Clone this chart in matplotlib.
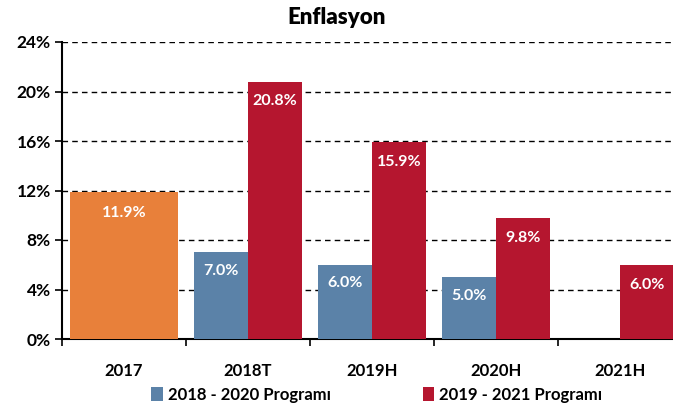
import matplotlib.pyplot as plt
import numpy as np

plt.rcParams['font.family'] = ['Lato', 'DejaVu Sans']
plt.rcParams['font.weight'] = 'bold'

# data
years = ['2017', '2018T', '2019H', '2020H', '2021H']
actual_2017 = 11.9
prog_2018_2020 = [7.0, 6.0, 5.0]          # 2018T..2020H
prog_2019_2021 = [20.8, 15.9, 9.8, 6.0]   # 2018T..2021H
yticks = [0, 4, 8, 12, 16, 20, 24]

orange = '#E8803A'
blue = '#5B82A8'
red = '#B5162F'

fig = plt.figure(figsize=(6.73, 4.05), dpi=100)
# axis runs off the right edge like the original
ax = fig.add_axes([62/673, 1 - 339/405, 620/673, 297/405])

x = np.arange(len(years))
w = 0.435

ax.bar(x[0], actual_2017, width=2*w, color=orange, zorder=3)
ax.text(x[0], actual_2017 - 1.7, f'{actual_2017:.1f}%', ha='center', va='center',
        color='white', fontsize=11.5, fontweight='bold', zorder=4)

xb = x[1:4] - w/2
ax.bar(xb, prog_2018_2020, width=w, color=blue, zorder=3, label='2018 - 2020 Programı')
for xi, v in zip(xb, prog_2018_2020):
    ax.text(xi, v - 1.5, f'{v:.1f}%', ha='center', va='center',
            color='white', fontsize=11.5, fontweight='bold', zorder=4)

xr = x[1:] + w/2
ax.bar(xr, prog_2019_2021, width=w, color=red, zorder=3, label='2019 - 2021 Programı')
for xi, v in zip(xr, prog_2019_2021):
    ax.text(xi, v - 1.6, f'{v:.1f}%', ha='center', va='center',
            color='white', fontsize=11.5, fontweight='bold', zorder=4)

ax.set_xlim(-0.5, len(years) - 0.5)
ax.set_ylim(0, 24)
ax.set_yticks(yticks)
ax.set_yticklabels([f'{t}%' for t in yticks], fontsize=12.5, fontweight='bold')
ax.yaxis.grid(True, linestyle=(0, (4, 3)), color='black', linewidth=1.0, zorder=0)

ax.set_xticks(x)
ax.set_xticklabels(years, fontsize=12, fontweight='bold')
ax.set_xticks(np.arange(len(years) + 1) - 0.5, minor=True)
ax.tick_params(axis='x', which='major', length=0, pad=17)
ax.tick_params(axis='x', which='minor', length=5, width=1.2, direction='out')
ax.tick_params(axis='y', length=5, width=1.2, direction='out', pad=3)

for s in ['top', 'right']:
    ax.spines[s].set_visible(False)
ax.spines['left'].set_linewidth(1.5)
ax.spines['bottom'].set_linewidth(1.5)

fig.text(0.5, 1 - 18/405, 'Enflasyon', ha='center', va='center', fontsize=16, fontweight='heavy')

h, l = ax.get_legend_handles_labels()
fig.legend(h, l, loc='center', bbox_to_anchor=(0.56, 1 - 395/405), ncol=2, frameon=False,
           fontsize=12, handlelength=0.7, handleheight=0.9, handletextpad=0.3,
           columnspacing=5.5)

fig.savefig('out.png', dpi=100)
